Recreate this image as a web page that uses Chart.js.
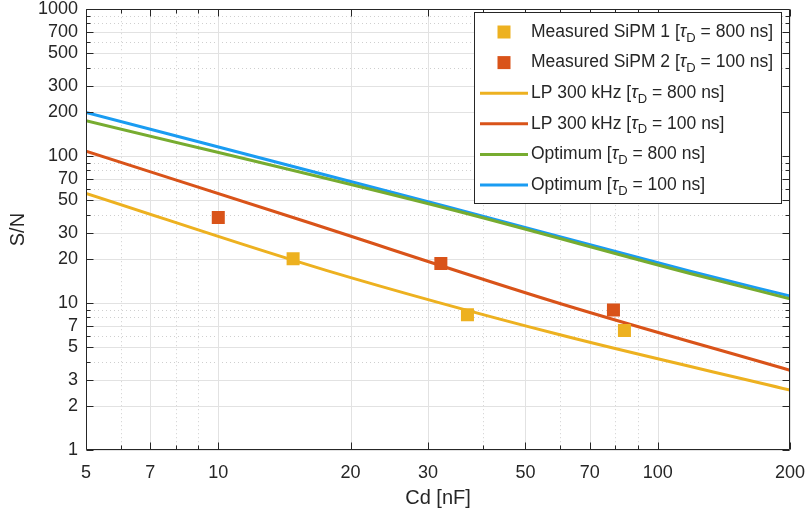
<!DOCTYPE html>
<html><head><meta charset="utf-8">
<script src="https://cdn.jsdelivr.net/npm/chart.js@4.4.1/dist/chart.umd.min.js"></script>
<style>html,body{margin:0;padding:0;background:#fff}#wrap{width:809px;height:518px}</style>
</head><body><div id="wrap"><canvas id="c" width="809" height="518"></canvas></div>
<script>
// ---- data ----
const xLimits = [5, 200];
const yLimits = [1, 1000];
const xTickLabels = [5, 7, 10, 20, 30, 50, 70, 100, 200];
const xMinorTicks = [6, 8, 9, 40, 60, 80, 90];
const yTickLabels = [1, 2, 3, 5, 7, 10, 20, 30, 50, 70, 100, 200, 300, 500, 700, 1000];
const yMinorTicks = [4, 6, 8, 9, 40, 60, 80, 90, 400, 600, 800, 900];

const sipm1Cd = [14.8, 36.9, 84.0];
const sipm1SN = [20.0, 8.34, 6.5];
const sipm2Cd = [10.0, 32.1, 79.3];
const sipm2SN = [38.2, 18.6, 8.97];

const lp800Cd  = [5, 17.6, 59.9, 200];
const lp800SN  = [55.8, 16.7, 6.08, 2.56];
const lp100Cd  = [5, 15.6, 59.9, 200];
const lp100SN  = [108.2, 36.3, 9.94, 3.49];
const opt800Cd = [5, 33.0, 118.5, 200];
const opt800SN = [174.4, 44.2, 15.9, 10.69];
const opt100Cd = [5, 33.0, 118.5, 200];
const opt100SN = [198.5, 45.4, 16.5, 11.15];

const seriesLabels = [
  'Measured SiPM 1 [τ_D = 800 ns]',
  'Measured SiPM 2 [τ_D = 100 ns]',
  'LP 300 kHz [τ_D = 800 ns]',
  'LP 300 kHz [τ_D = 100 ns]',
  'Optimum [τ_D = 800 ns]',
  'Optimum [τ_D = 100 ns]'
];
const colYellow = '#EDB120', colOrange = '#D95319', colGreen = '#77AC30', colBlue = '#1A9CF2';
const AX = '#262626';
const FONT = '"Liberation Sans", Arial, sans-serif';

const pts = (xs, ys) => xs.map((x, i) => ({x, y: ys[i]}));

const frame = {
  id: 'frame',
  beforeDatasetsDraw(c) {
    const {ctx, chartArea: a, scales: {x, y}} = c;
    ctx.save();
    ctx.lineWidth = 1;
    ctx.strokeStyle = '#cfcfcf';
    ctx.setLineDash([1, 3]);
    ctx.beginPath();
    xMinorTicks.forEach(v => { const p = Math.round(x.getPixelForValue(v)) + 0.5; ctx.moveTo(p, a.top); ctx.lineTo(p, a.bottom); });
    yMinorTicks.forEach(v => { const p = Math.round(y.getPixelForValue(v)) + 0.5; ctx.moveTo(a.left, p); ctx.lineTo(a.right, p); });
    ctx.stroke();
    ctx.setLineDash([]);
    ctx.strokeStyle = '#e2e2e2';
    ctx.beginPath();
    xTickLabels.forEach(v => { const p = Math.round(x.getPixelForValue(v)) + 0.5; ctx.moveTo(p, a.top); ctx.lineTo(p, a.bottom); });
    yTickLabels.forEach(v => { const p = Math.round(y.getPixelForValue(v)) + 0.5; ctx.moveTo(a.left, p); ctx.lineTo(a.right, p); });
    ctx.stroke();
    ctx.restore();
  },
  afterDatasetsDraw(c) {
    const {ctx, chartArea: a, scales: {x, y}} = c;
    ctx.save();
    ctx.strokeStyle = AX;
    ctx.lineWidth = 1;
    ctx.beginPath();
    const L = Math.round(a.left) + 0.5, R = Math.round(a.right) - 0.5, T = Math.round(a.top) + 0.5, B = Math.round(a.bottom) - 0.5;
    ctx.rect(L, T, R - L, B - T);
    const xt = (vals, len) => vals.forEach(v => { const p = Math.round(x.getPixelForValue(v)) + 0.5; ctx.moveTo(p, B); ctx.lineTo(p, B - len); ctx.moveTo(p, T); ctx.lineTo(p, T + len); });
    const yt = (vals, len) => vals.forEach(v => { const p = Math.round(y.getPixelForValue(v)) + 0.5; ctx.moveTo(L, p); ctx.lineTo(L + len, p); ctx.moveTo(R, p); ctx.lineTo(R - len, p); });
    xt(xTickLabels, 7); xt(xMinorTicks, 4);
    yt(yTickLabels, 7); yt(yMinorTicks, 4);
    ctx.stroke();
    ctx.restore();
  },
  afterDraw(c) {
    const ctx = c.ctx;
    const bx = 474.5, by = 12.5, bw = 307, bh = 191;
    ctx.save();
    ctx.fillStyle = '#fff';
    ctx.fillRect(bx, by, bw, bh);
    ctx.strokeStyle = AX; ctx.lineWidth = 1;
    ctx.strokeRect(bx, by, bw, bh);
    c.data.datasets.forEach((ds, i) => {
      const yy = 32 + i * 30.6;
      if (ds.showLine === false) {
        ctx.fillStyle = ds.backgroundColor;
        ctx.fillRect(497.5, yy - 6.5, 13, 13);
      } else {
        ctx.strokeStyle = ds.borderColor; ctx.lineWidth = 3;
        ctx.beginPath(); ctx.moveTo(480, yy); ctx.lineTo(528, yy); ctx.stroke();
      }
      const [pre, rest] = ds.label.split('τ_');
      const sub = rest.charAt(0), post = rest.slice(1);
      let tx = 531;
      ctx.fillStyle = AX; ctx.textBaseline = 'middle'; ctx.textAlign = 'left';
      ctx.font = '17.5px ' + FONT;
      ctx.fillText(pre, tx, yy); tx += ctx.measureText(pre).width;
      ctx.font = 'italic 17.5px ' + FONT;
      ctx.fillText('τ', tx, yy); tx += ctx.measureText('τ').width;
      ctx.font = '13px ' + FONT;
      ctx.fillText(sub, tx, yy + 6); tx += ctx.measureText(sub).width;
      ctx.font = '17.5px ' + FONT;
      ctx.fillText(post, tx, yy);
    });
    ctx.restore();
  }
};

new Chart(document.getElementById('c'), {
  type: 'scatter',
  data: {
    datasets: [
      {label: seriesLabels[0], data: pts(sipm1Cd, sipm1SN), showLine: false, pointStyle: 'rect', pointRadius: 9.2, pointHoverRadius: 9.2, backgroundColor: colYellow, borderWidth: 0, order: 0},
      {label: seriesLabels[1], data: pts(sipm2Cd, sipm2SN), showLine: false, pointStyle: 'rect', pointRadius: 9.2, pointHoverRadius: 9.2, backgroundColor: colOrange, borderWidth: 0, order: 0},
      {label: seriesLabels[2], data: pts(lp800Cd, lp800SN), showLine: true, pointRadius: 0, borderColor: colYellow, borderWidth: 3, cubicInterpolationMode: 'monotone', order: 1},
      {label: seriesLabels[3], data: pts(lp100Cd, lp100SN), showLine: true, pointRadius: 0, borderColor: colOrange, borderWidth: 3, cubicInterpolationMode: 'monotone', order: 1},
      {label: seriesLabels[4], data: pts(opt800Cd, opt800SN), showLine: true, pointRadius: 0, borderColor: colGreen, borderWidth: 3, cubicInterpolationMode: 'monotone', order: 1},
      {label: seriesLabels[5], data: pts(opt100Cd, opt100SN), showLine: true, pointRadius: 0, borderColor: colBlue, borderWidth: 3, cubicInterpolationMode: 'monotone', order: 1}
    ]
  },
  options: {
    responsive: false,
    animation: false,
    layout: {padding: {left: 0, right: 19, top: 6, bottom: 0}},
    plugins: {legend: {display: false}, tooltip: {enabled: false}},
    scales: {
      x: {
        type: 'logarithmic', min: xLimits[0], max: xLimits[1],
        afterBuildTicks: s => { s.ticks = xTickLabels.map(v => ({value: v})); },
        afterFit: s => { s.height = 68; s.paddingLeft = 0; s.paddingRight = 0; },
        grid: {display: false, drawTicks: false}, border: {display: false},
        ticks: {autoSkip: false, maxRotation: 0, padding: 12, color: AX, font: {family: FONT, size: 18}, callback: v => String(v)},
        title: {display: true, text: 'Cd [nF]', color: AX, font: {family: FONT, size: 20}, padding: {top: 0, bottom: 8}}
      },
      y: {
        type: 'logarithmic', min: yLimits[0], max: yLimits[1],
        afterBuildTicks: s => { s.ticks = yTickLabels.map(v => ({value: v})); },
        afterFit: s => { s.width = 86; s.paddingTop = 0; s.paddingBottom = 0; },
        grid: {display: false, drawTicks: false}, border: {display: false},
        ticks: {autoSkip: false, padding: 8, color: AX, font: {family: FONT, size: 18}, callback: v => String(v)},
        title: {display: true, text: 'S/N', color: AX, font: {family: FONT, size: 20}, padding: {top: 6, bottom: 0}}
      }
    }
  },
  plugins: [frame]
});
</script>
</body></html>
